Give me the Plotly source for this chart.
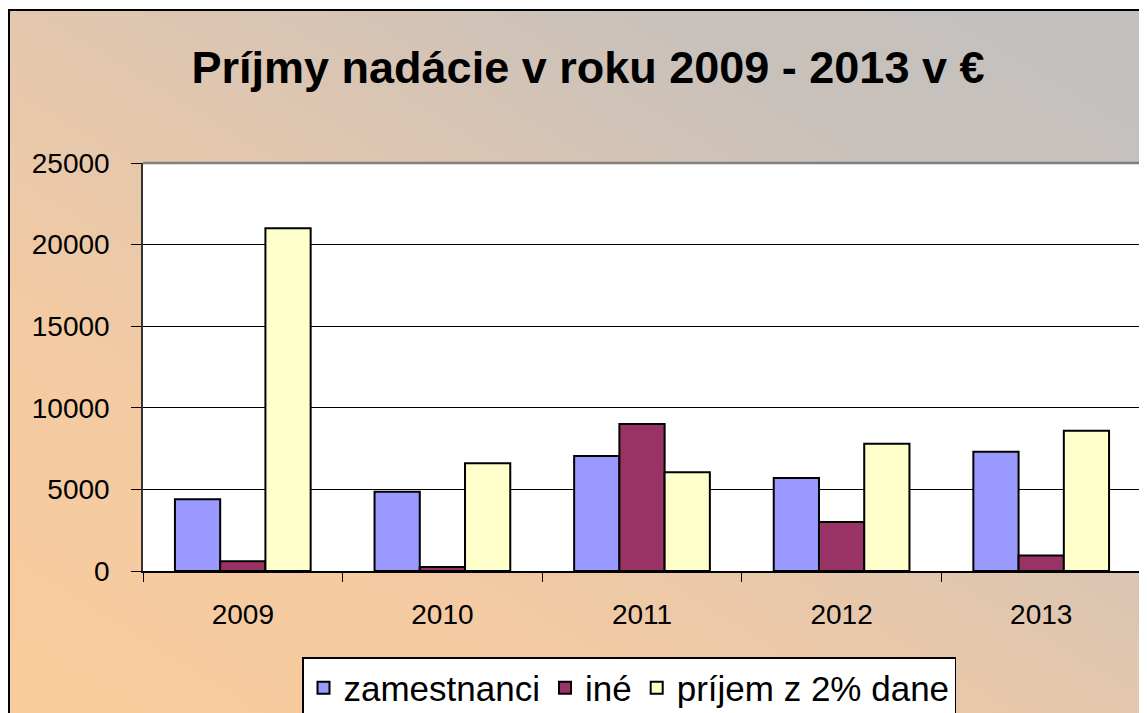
import base64
import plotly.graph_objects as go

years = ["2009", "2010", "2011", "2012", "2013"]
zamestnanci = [4400, 4850, 7050, 5700, 7300]
ine = [600, 250, 9000, 3000, 950]
prijem_2pct = [21000, 6600, 6050, 7800, 8600]

series_names = ["zamestnanci", "iné", "príjem z 2% dane"]
series_colors = ["#9999FF", "#993366", "#FFFFCC"]
title_text = "Príjmy nadácie v roku 2009 - 2013 v €"

# page body has an 8px margin; figure fills the remaining window
OFF = 8
W, H = 1147 - OFF, 713 - OFF
# plot area in screen pixels
PX0, PX1, PY0, PY1 = 143, 1141, 163, 571

def px(x):
    return (x - OFF) / W

def py(y):
    return 1 - (y - OFF) / H

svg = (
    '<svg xmlns="http://www.w3.org/2000/svg" width="1000" height="1000" '
    'viewBox="0 0 1000 1000" preserveAspectRatio="none">'
    '<defs><linearGradient id="g" x1="0" y1="1" x2="1" y2="0">'
    '<stop offset="0" stop-color="#FBCC9B"/>'
    '<stop offset="0.3" stop-color="#F3CAA2"/>'
    '<stop offset="0.5" stop-color="#E3C7AE"/>'
    '<stop offset="0.75" stop-color="#C9C1BB"/>'
    '<stop offset="1" stop-color="#C0C0C0"/>'
    '</linearGradient></defs>'
    '<rect x="0" y="0" width="1000" height="1000" fill="url(#g)"/></svg>'
)
src = "data:image/svg+xml;base64," + base64.b64encode(svg.encode()).decode()

fig = go.Figure()
for name, vals, col in zip(series_names, [zamestnanci, ine, prijem_2pct], series_colors):
    fig.add_trace(go.Bar(
        x=years, y=vals, name=name,
        marker=dict(color=col, line=dict(color="black", width=2)),
    ))

FONT = "Liberation Sans, Arial, sans-serif"

fig.update_layout(
    template="none",
    width=W, height=H,
    margin=dict(l=0, r=0, t=0, b=0, autoexpand=False),
    paper_bgcolor="white",
    plot_bgcolor="white",
    barmode="group",
    bargap=0.32,
    bargroupgap=0,
    font=dict(family=FONT, color="black"),
    title=dict(
        text="<b>" + title_text + "</b>",
        x=px(588), xanchor="center", xref="paper",
        y=py(67), yanchor="middle", yref="paper",
        font=dict(size=45, family=FONT, color="black"),
    ),
    xaxis=dict(
        domain=[px(PX0), min(1.0, px(PX1))],
        type="category",
        showline=True, linecolor="black", linewidth=1.5,
        ticks="outside", tickson="boundaries", ticklen=9, tickcolor="black",
        tickfont=dict(size=28, family=FONT),
        ticklabelstandoff=18,
        showgrid=False, automargin=False,
    ),
    yaxis=dict(
        domain=[py(PY1), py(PY0)],
        range=[0, 25000], dtick=5000, tickformat="d",
        showline=True, linecolor="#333333", linewidth=1.5,
        ticks="outside", ticklen=10, tickcolor="black",
        tickfont=dict(size=28, family=FONT),
        ticklabelstandoff=16,
        showgrid=True, gridcolor="black", gridwidth=1,
        zeroline=False, automargin=False,
    ),
    legend=dict(
        orientation="h",
        x=px(302), xanchor="left",
        y=py(657), yanchor="top",
        bgcolor="white", bordercolor="black", borderwidth=1.5,
        font=dict(size=35, family=FONT),
        traceorder="normal",
        itemsizing="constant",
    ),
    images=[dict(
        source=src, xref="paper", yref="paper",
        x=px(9), y=py(10), sizex=1.1, sizey=1.1,
        xanchor="left", yanchor="top", sizing="stretch", layer="below",
    )],
    shapes=[
        dict(type="rect", xref="paper", yref="paper", layer="below",
             x0=px(PX0), x1=px(PX1), y0=py(PY1), y1=py(PY0),
             fillcolor="white", line=dict(width=0)),
        dict(type="path", xref="paper", yref="paper", layer="above",
             path=f"M {px(PX0)},{py(PY0)} L {px(PX1)},{py(PY0)} L {px(PX1)},{py(PY1)}",
             line=dict(color="#808080", width=2.5)),
        dict(type="rect", xref="paper", yref="paper", layer="above",
             x0=px(9), x1=1.05, y0=-0.05, y1=py(10),
             fillcolor="rgba(0,0,0,0)", line=dict(color="black", width=2)),
    ],
)

fig.write_html("out.html")
